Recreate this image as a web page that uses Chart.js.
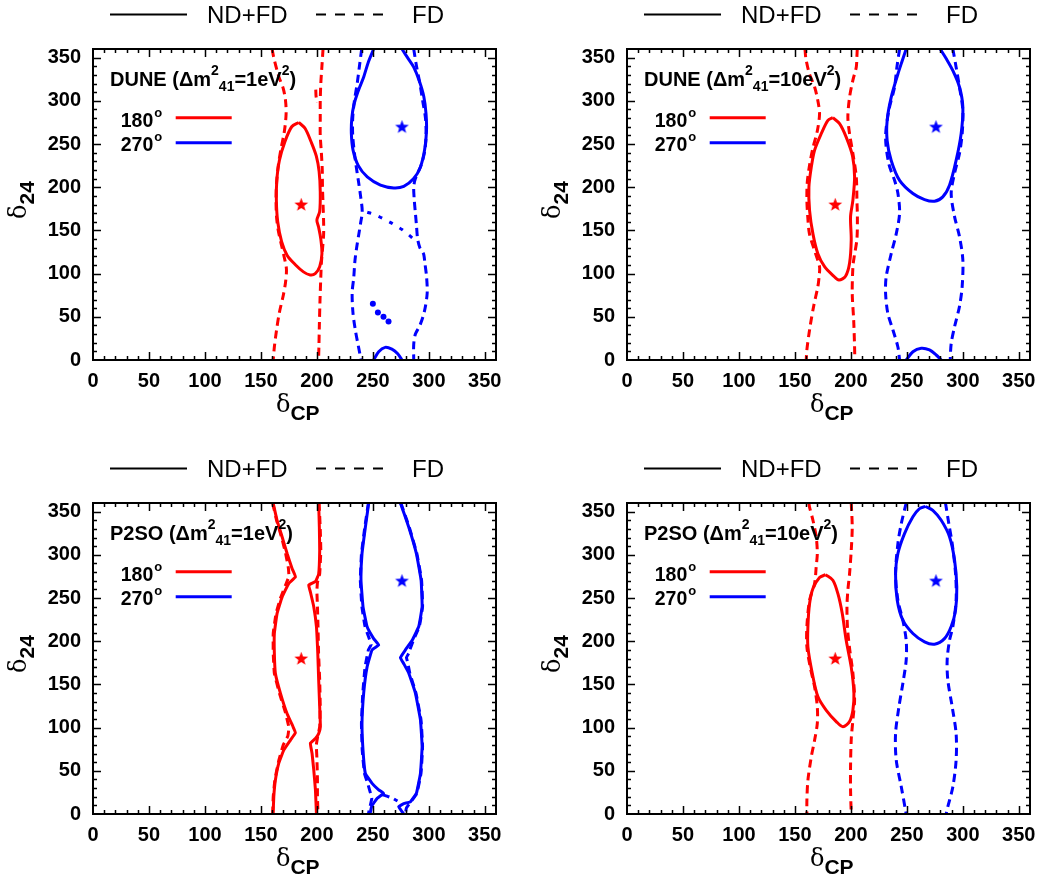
<!DOCTYPE html>
<html><head><meta charset="utf-8">
<script src="https://cdn.jsdelivr.net/npm/chart.js@4.4.1/dist/chart.umd.min.js"></script>
<style>
html,body{margin:0;padding:0;background:#fff;overflow:hidden;}
#wrap{position:relative;width:1041px;height:881px;overflow:hidden;background:#fff;}
#wrap canvas{position:absolute;}
#ov{position:absolute;left:0;top:0;font-family:"Liberation Sans",Arial,Helvetica,sans-serif;}
</style></head><body>
<div id="wrap">
<canvas id="c0" width="523" height="400" style="left:3px;top:0px"></canvas>
<canvas id="c1" width="523" height="400" style="left:537px;top:0px"></canvas>
<canvas id="c2" width="523" height="400" style="left:3px;top:454px"></canvas>
<canvas id="c3" width="523" height="400" style="left:537px;top:454px"></canvas>
<svg id="ov" width="1041" height="881" xmlns="http://www.w3.org/2000/svg"></svg>
</div>
<script>
// ---------------- data ----------------
const TICKS = [0, 50, 100, 150, 200, 250, 300, 350];
const EXPERIMENTS = ['DUNE', 'DUNE', 'P2SO', 'P2SO'];
const DM41 = ['1', '10', '1', '10'];
const TRUE_DCP = ['180', '270'];
const SERIES = ['ND+FD', 'FD'];
const STAR_180 = [186, 180];
const STAR_270 = [276, 270];

// DUNE, dm41 = 1 eV^2
const dune1_180_ndfd = [[183.8,275],[189.5,268],[195,252],[199.5,236],[202,218],[203,195],[202.5,172],[200,162],[201.5,154],[203.5,140],[204.5,123],[202.5,108],[198.5,100],[194,98.5],[188,102],[181,110],[173.5,121],[168.5,137],[165,160],[163.8,185],[164.2,208],[166.5,231],[171.5,253],[177.5,270],[183.8,275]];
const dune1_180_fd_left = [[160,360],[161.5,350],[166,328],[170,314],[172,300],[172.5,285],[171,265],[168,245],[165.5,225],[164,205],[163.5,185],[164,165],[165.5,150],[168,135],[171,118],[172.8,105],[172,90],[170,75],[166.5,55],[164,35],[162,15],[161,0]];
const dune1_180_fd_right = [[205.5,360],[204.5,340],[203.5,320],[203,300],[203,280],[203,260],[204,240],[204.8,220],[205,200],[205.5,180],[206,160],[206,145],[205,128],[204,112],[203.5,96],[202.8,70],[202.2,40],[201.8,15],[201.5,0]];
const dune1_180_fd_spur = [[199,313],[199.3,305],[200.5,298]];
const dune1_270_ndfd_top = [[250.7,360],[246,345],[241.9,328],[236.5,310],[233,295],[231.2,280],[230.8,262],[232.3,243],[237,225],[245,212],[256.8,202.5],[268.7,199.2],[277.6,201],[286.5,210],[292.5,223.5],[296.2,243],[297.9,265],[297.5,285],[295.5,305],[291.5,323],[286.5,339],[281,350],[276,360]];
const dune1_270_ndfd_bottom = [[250.7,0],[255.2,9.6],[261,14.6],[267,12.5],[272,7.5],[276,0]];
const dune1_270_fd_left = [[240,360],[238,340],[236,320],[233.5,300],[232,280],[232,260],[233.5,240],[235,225],[237,208],[239,190],[240.5,172],[239,158],[237.5,146],[235.5,130],[234,115],[232.9,95],[231.5,78],[232.2,55],[234.3,35],[237.2,15],[239.5,0]];
const dune1_270_fd_diag = [[245,171],[250,169],[255.5,166],[260,163],[266,159],[271,155],[276,151],[281,146],[285.5,141],[289,136]];
const dune1_270_fd_right = [[286.5,360],[289,340],[292,320],[294.5,300],[297,280],[297.5,262],[296.5,243],[293,225],[288,210],[286.5,200],[287,185],[288,170],[289,155],[290,140],[292,130],[294,126],[295.5,122],[296.5,112],[298,96],[298.5,77],[296,56],[292,40],[288,30],[286.5,18],[286.5,0]];
const dune1_270_fd_islands = [[250,65],[254.5,55],[259.5,50],[264,44.5]];

// DUNE, dm41 = 10 eV^2
const dune10_180_ndfd = [[183.9,280.5],[189.9,273.6],[195.8,258],[201.5,236],[203.3,212],[201.8,185],[199.7,166],[200.3,139],[198.8,112],[195.2,97],[189.3,92.5],[183.9,98],[176.5,108],[170.5,123],[166.1,146],[163.1,173],[162.5,200],[164.6,223],[167.6,243],[173.5,262],[179.5,277.5],[183.9,280.5]];
const dune10_180_fd_left = [[159,360],[159.8,349],[163,331],[167.6,316],[170.5,300],[172,285],[170,265],[166,245],[163,225],[161,205],[160.7,185],[161.5,165],[163,146],[168.5,123],[172,108],[171.5,95],[170.5,85],[166.7,62],[163.1,35],[160.7,12],[160.1,0]];
const dune10_180_fd_right = [[205.7,360],[205.4,352],[204.8,339],[201.8,324],[198.8,304],[197.3,281],[198.8,262],[201.8,239],[204.8,212],[205.4,185],[205.8,165],[205.4,140],[203,120],[201.8,108],[201.2,77],[202.5,46],[203.3,15],[203.5,0]];
const dune10_270_ndfd_top = [[249.4,360],[245.5,345],[242,331],[236,304],[232.4,277.5],[232.4,254],[236,231],[243.5,208],[255.4,192.7],[265.8,185.7],[274.7,183.8],[282.1,188.8],[288.1,202.3],[294,231],[298.5,262],[300,293],[297,316],[291.1,335],[285.1,349],[279.8,360]];
const dune10_270_ndfd_bottom = [[249.4,0],[255.4,9.6],[262.8,13.5],[270.2,11.6],[276.2,5.8],[280.7,0]];
const dune10_270_fd_left = [[243.5,360],[241,338],[239,316],[233.9,289],[231,258],[233.9,227],[239,208],[242,193],[243.5,170],[240.5,146],[236,123],[231.5,96],[231,77],[233,54],[237.5,35],[242,15],[243.5,0]];
const dune10_270_fd_right = [[291.1,360],[294,339],[297,316],[300,289],[299.4,262],[297,239],[292.6,216],[289.6,193],[292.6,166],[297,143],[300,116],[299.4,85],[297,62],[292.6,38.5],[289.6,19],[288.7,0]];

// P2SO, dm41 = 1 eV^2
const p2so1_180_ndfd_left = [[160.9,360],[164.4,340],[168.9,321],[173.4,301.5],[177.9,284],[180.8,274.5],[174.9,267],[168.9,251],[164.4,232],[162,209],[162,186],[162.9,163],[167.4,140],[173.4,116],[178.7,101],[180.8,94],[176.4,85.6],[170.4,74],[165.9,58.6],[162.9,39],[161.5,20],[160.9,0]];
const p2so1_180_ndfd_right = [[201.6,360],[202.2,332],[202.5,305],[201.6,278],[198.7,269],[192.7,265],[194.2,257],[197.2,240],[199.6,217],[200.8,186],[201.6,155],[202.5,124],[203.1,101],[201.6,93],[198.7,87.5],[194.2,82],[195.7,70],[197.2,51],[198.7,28],[199.6,0]];
const p2so1_180_fd_left = [[160.5,360],[164,340],[168.5,320],[172,302],[174.5,285],[175,275],[172,265],[167.5,250],[163.5,232],[161,209],[161,186],[162,163],[166.5,140],[172,117],[175,100],[174,90],[170,80],[166,62],[162.5,40],[161,20],[160.5,0]];
const p2so1_180_fd_right = [[202,360],[203,330],[203.5,305],[202.5,278],[200.5,268],[200,258],[200.5,240],[201,217],[201.5,186],[202.5,155],[203,124],[202.5,101],[200.5,88],[199.5,80],[200,65],[200.5,40],[200.5,20],[201,0]];
const p2so1_270_ndfd_left = [[246.3,360],[243.3,332],[240.3,301.5],[239.4,270.6],[241.2,240],[244.8,217],[250.7,203],[255.2,195.5],[249.3,190],[244.8,170],[241.8,140],[240.3,105],[241.2,74],[243.3,47],[249.3,35.5],[255.2,28],[259.6,24],[253.7,18],[249,9],[247.5,0]];
const p2so1_270_ndfd_right = [[274.6,360],[282.1,332],[288.9,301.5],[293.1,270.6],[294,240],[291,217],[285.1,201],[279.1,190],[274.6,181],[277.6,174],[282.1,163],[288,140],[292.5,109],[294,78],[292.5,47],[288.9,24],[283.5,14],[277.6,12],[273.1,8.5],[276,2.7],[277.6,0]];
const p2so1_270_fd_left = [[246,360],[242.8,332],[239.8,301],[238.8,271],[240.2,240],[243,217],[246.5,204],[248.4,196],[246,190],[243,170],[241,140],[239.8,105],[240.5,74],[242.5,47],[245.5,35],[249,18],[247,6],[246,0]];
const p2so1_270_fd_right = [[275,360],[282.5,332],[289.3,301.5],[293.5,270.6],[294.4,240],[291.5,217],[286.5,202],[283,190],[282,186],[280,181],[281,176],[283,163],[288.5,140],[293,109],[294.4,78],[293,47],[289.3,24],[284.5,15],[280,7],[279,0]];
const p2so1_270_fd_bridge = [[258,22.5],[263,20.5],[268,18],[272,15]];

// P2SO, dm41 = 10 eV^2
const p2so10_180_ndfd = [[177.4,277],[183.9,270.6],[188.4,255],[192.3,232],[195.8,201],[200.3,170],[202.7,140],[201.8,120],[198.8,107],[192.9,101],[186.9,107],[178,120],[170.5,136],[165.5,163],[161.6,193.5],[161.6,217],[163.1,243.6],[166.1,261],[172,273.7],[177.4,277]];
const p2so10_180_fd_left = [[162.5,360],[163.1,355],[166.1,340],[169,321],[170,301.5],[169,286],[167.6,267],[163.1,247.5],[160.7,217],[160.7,193.5],[163.7,170],[167.6,147],[170,124],[170,105],[167.6,85.6],[164.6,66],[161.6,39],[160.7,16],[160.7,0]];
const p2so10_180_fd_right = [[200.3,360],[201.2,332],[200.3,305],[198.8,278],[197.3,259],[196.5,240],[197,215],[199,190],[201.8,163],[203.3,132],[201.8,109],[200.3,86],[199.7,55],[199.7,28],[200.3,0]];
const p2so10_270_ndfd = [[266.7,356],[273.2,351.6],[280.7,340],[288.1,321],[292.6,294],[294.6,263],[293.5,236],[289.6,217],[283.6,203],[274.7,196.6],[265.8,199.3],[255.4,209],[246.4,224.4],[241.4,247.5],[239.9,278],[242,301.5],[247.9,324.6],[255.4,344],[261.3,353.5],[266.7,356]];
const p2so10_270_fd_left = [[249.4,360],[245,336],[242,313],[239.9,278],[242,247.5],[246.4,224.4],[249.4,201],[249.4,178],[246.4,151],[242.9,124],[239.9,93],[240.5,62.5],[245,31.6],[249.4,0]];
const p2so10_270_fd_right = [[284.5,360],[287.5,336],[290.5,313],[293.5,278],[294,247.5],[291.1,217],[288.1,201],[286,178],[286.6,155],[290.5,124],[294,93],[294,62.5],[291.1,31.6],[286.6,8.5],[285.1,0]];

// ---------------- styling / building ----------------
const RED = '#ff0000', BLUE = '#0000ff';
const FONT = '"Liberation Sans", Arial, Helvetica, sans-serif';
Chart.defaults.font.family = FONT;

function starImage(color) {
  const c = document.createElement('canvas');
  c.width = 17; c.height = 17;
  const g = c.getContext('2d');
  g.translate(8.5, 9);
  g.fillStyle = color;
  g.beginPath();
  for (let i = 0; i < 10; i++) {
    const a = -Math.PI / 2 + i * Math.PI / 5;
    const r = i % 2 ? 3 : 7.2;
    const px = r * Math.cos(a), py = r * Math.sin(a);
    if (i === 0) g.moveTo(px, py); else g.lineTo(px, py);
  }
  g.closePath();
  g.fill();
  return c;
}
const STAR_RED = starImage(RED), STAR_BLUE = starImage(BLUE);

const pts = arr => arr.map(([x, y]) => ({x, y}));
function curve(arr, color, dashed, label, tension, dash) {
  return {label, data: pts(arr), showLine: true, borderColor: color, backgroundColor: color,
    borderWidth: 3, borderDash: dashed ? (dash || [8, 5]) : [], pointRadius: 0, fill: false,
    tension: tension === undefined ? 0.3 : tension};
}
function star(p, img, label) {
  return {label, data: pts([p]), showLine: false, pointStyle: img, pointRadius: 8};
}
function dots(arr, color, label) {
  return {label, data: pts(arr), showLine: false, pointStyle: 'circle', pointRadius: 3,
    backgroundColor: color, borderColor: color, borderWidth: 0};
}

const L180 = TRUE_DCP[0] + '° ', L270 = TRUE_DCP[1] + '° ';
const PANEL_DATA = [
  [
    curve(dune1_180_fd_left, RED, true, L180 + SERIES[1]),
    curve(dune1_180_fd_right, RED, true, L180 + SERIES[1]),
    curve(dune1_180_fd_spur, RED, true, L180 + SERIES[1]),
    curve(dune1_270_fd_left, BLUE, true, L270 + SERIES[1]),
    curve(dune1_270_fd_diag, BLUE, true, L270 + SERIES[1], 0.3, [4, 8]),
    curve(dune1_270_fd_right, BLUE, true, L270 + SERIES[1]),
    dots(dune1_270_fd_islands, BLUE, L270 + SERIES[1]),
    curve(dune1_180_ndfd, RED, false, L180 + SERIES[0]),
    curve(dune1_270_ndfd_top, BLUE, false, L270 + SERIES[0]),
    curve(dune1_270_ndfd_bottom, BLUE, false, L270 + SERIES[0]),
    star(STAR_180, STAR_RED, 'true 180°'), star(STAR_270, STAR_BLUE, 'true 270°')
  ],
  [
    curve(dune10_180_fd_left, RED, true, L180 + SERIES[1]),
    curve(dune10_180_fd_right, RED, true, L180 + SERIES[1]),
    curve(dune10_270_fd_left, BLUE, true, L270 + SERIES[1]),
    curve(dune10_270_fd_right, BLUE, true, L270 + SERIES[1]),
    curve(dune10_180_ndfd, RED, false, L180 + SERIES[0]),
    curve(dune10_270_ndfd_top, BLUE, false, L270 + SERIES[0]),
    curve(dune10_270_ndfd_bottom, BLUE, false, L270 + SERIES[0]),
    star(STAR_180, STAR_RED, 'true 180°'), star(STAR_270, STAR_BLUE, 'true 270°')
  ],
  [
    curve(p2so1_180_fd_left, RED, true, L180 + SERIES[1], 0.1),
    curve(p2so1_180_fd_right, RED, true, L180 + SERIES[1], 0.1),
    curve(p2so1_270_fd_left, BLUE, true, L270 + SERIES[1], 0.1),
    curve(p2so1_270_fd_right, BLUE, true, L270 + SERIES[1], 0.1),
    curve(p2so1_270_fd_bridge, BLUE, true, L270 + SERIES[1], 0.1),
    curve(p2so1_180_ndfd_left, RED, false, L180 + SERIES[0], 0.1),
    curve(p2so1_180_ndfd_right, RED, false, L180 + SERIES[0], 0.1),
    curve(p2so1_270_ndfd_left, BLUE, false, L270 + SERIES[0], 0.1),
    curve(p2so1_270_ndfd_right, BLUE, false, L270 + SERIES[0], 0.1),
    star(STAR_180, STAR_RED, 'true 180°'), star(STAR_270, STAR_BLUE, 'true 270°')
  ],
  [
    curve(p2so10_180_fd_left, RED, true, L180 + SERIES[1]),
    curve(p2so10_180_fd_right, RED, true, L180 + SERIES[1]),
    curve(p2so10_270_fd_left, BLUE, true, L270 + SERIES[1]),
    curve(p2so10_270_fd_right, BLUE, true, L270 + SERIES[1]),
    curve(p2so10_180_ndfd, RED, false, L180 + SERIES[0]),
    curve(p2so10_270_ndfd, BLUE, false, L270 + SERIES[0]),
    star(STAR_180, STAR_RED, 'true 180°'), star(STAR_270, STAR_BLUE, 'true 270°')
  ]
];

// frame with inward major/minor ticks on all four sides
const framePlugin = {
  id: 'frame',
  afterDraw(chart) {
    const {ctx, chartArea: a, scales: {x, y}} = chart;
    ctx.save();
    ctx.strokeStyle = '#000';
    ctx.lineWidth = 1.5;
    ctx.beginPath();
    for (let v = 10; v < 360; v += 10) {
      const len = v % 50 === 0 ? 8 : 4;
      const px = Math.round(x.getPixelForValue(v)) + 0.5;
      const py = Math.round(y.getPixelForValue(v)) + 0.5;
      ctx.moveTo(px, a.bottom); ctx.lineTo(px, a.bottom - len);
      ctx.moveTo(px, a.top); ctx.lineTo(px, a.top + len);
      ctx.moveTo(a.left, py); ctx.lineTo(a.left + len, py);
      ctx.moveTo(a.right, py); ctx.lineTo(a.right - len, py);
    }
    ctx.stroke();
    ctx.lineWidth = 2;
    ctx.strokeRect(a.left, a.top, a.right - a.left, a.bottom - a.top);
    ctx.restore();
  }
};

function axis(isX) {
  return {
    type: 'linear', min: 0, max: 360,
    afterBuildTicks: s => { s.ticks = TICKS.map(v => ({value: v})); },
    afterFit: s => { if (isX) s.height = 40; else s.width = 90; },
    ticks: {color: '#000', font: {family: FONT, weight: 'bold', size: 20}, padding: isX ? 9 : 12, maxRotation: 0, autoSkip: false},
    grid: {display: false, drawTicks: false, tickLength: 0},
    border: {display: false}
  };
}

PANEL_DATA.forEach((datasets, i) => {
  new Chart(document.getElementById('c' + i), {
    type: 'scatter',
    data: {datasets},
    options: {
      responsive: false, animation: false, events: [],
      layout: {padding: {top: 49, right: 30, bottom: 0, left: 0}},
      plugins: {legend: {display: false}, tooltip: {enabled: false}},
      scales: {x: axis(true), y: axis(false)}
    },
    plugins: [framePlugin]
  });
});

// ---------------- text overlay ----------------
const GEO = [{L: 93, T: 49}, {L: 627, T: 49}, {L: 93, T: 503}, {L: 627, T: 503}];
const ov = document.getElementById('ov');
let svg = '';
GEO.forEach(({L, T}, i) => {
  const ly = T - 34.5;
  svg += `<line x1="${L + 17}" y1="${ly}" x2="${L + 94}" y2="${ly}" stroke="#000" stroke-width="2"/>`;
  svg += `<text x="${L + 114}" y="${T - 25.7}" font-size="24" fill="#000">${SERIES[0]}</text>`;
  svg += `<line x1="${L + 223}" y1="${ly}" x2="${L + 290}" y2="${ly}" stroke="#000" stroke-width="2" stroke-dasharray="10 9"/>`;
  svg += `<text x="${L + 319}" y="${T - 25.7}" font-size="24" fill="#000">${SERIES[1]}</text>`;
  // panel label
  svg += `<text x="${L + 17}" y="${T + 37}" font-size="20" font-weight="bold" fill="#000">${EXPERIMENTS[i]} (Δm<tspan dy="-11" font-size="14">2</tspan><tspan dy="16" font-size="14">41</tspan><tspan dy="-5">=${DM41[i]}eV</tspan><tspan dy="-11" font-size="14">2</tspan><tspan dy="11">)</tspan></text>`;
  // inner legend
  svg += `<text x="${L + 27.7}" y="${T + 77.7}" font-size="19.5" font-weight="bold" fill="#000">${TRUE_DCP[0]}<tspan dx="1" dy="-10" font-size="13">o</tspan></text>`;
  svg += `<line x1="${L + 82.7}" y1="${T + 68.7}" x2="${L + 138.7}" y2="${T + 68.7}" stroke="${RED}" stroke-width="3"/>`;
  svg += `<text x="${L + 27.7}" y="${T + 102}" font-size="19.5" font-weight="bold" fill="#000">${TRUE_DCP[1]}<tspan dx="1" dy="-10" font-size="13">o</tspan></text>`;
  svg += `<line x1="${L + 82.7}" y1="${T + 93.7}" x2="${L + 138.7}" y2="${T + 93.7}" stroke="${BLUE}" stroke-width="3"/>`;
  // axis titles
  svg += `<text x="${L + 183}" y="${T + 311 + 51.7}" fill="#000"><tspan font-family="'DejaVu Serif','Liberation Serif',serif" font-size="24">δ</tspan><tspan font-weight="bold" font-size="21" dy="8.3">CP</tspan></text>`;
  svg += `<text transform="translate(${L - 67},${T + 170}) rotate(-90)" fill="#000"><tspan font-family="'DejaVu Serif','Liberation Serif',serif" font-size="24">δ</tspan><tspan font-weight="bold" font-size="21" dy="8">24</tspan></text>`;
});
ov.insertAdjacentHTML('beforeend', svg);
</script>
</body></html>
